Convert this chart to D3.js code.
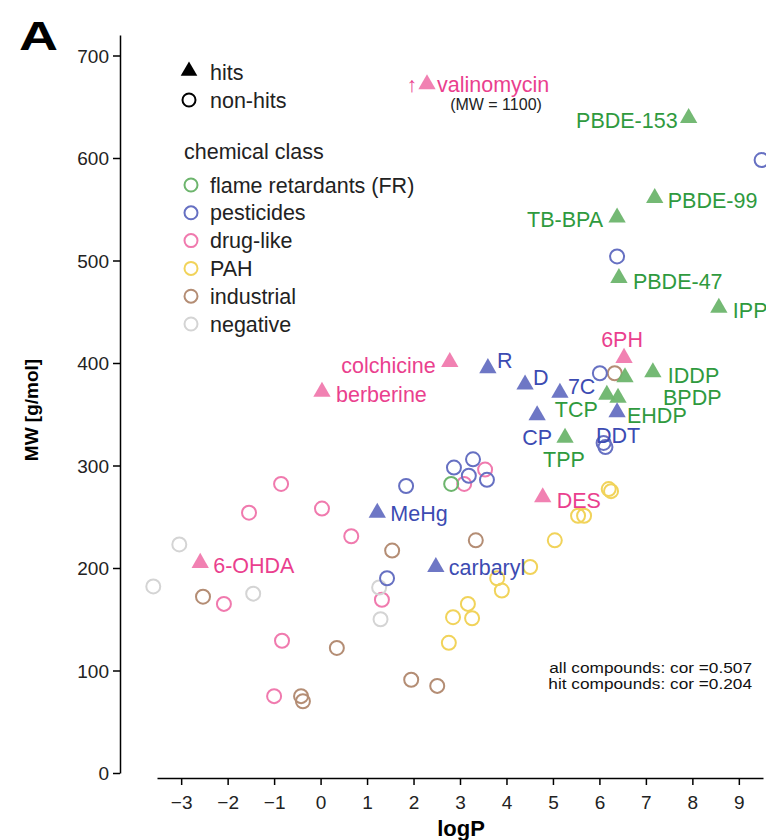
<!DOCTYPE html>
<html>
<head>
<meta charset="utf-8">
<script src="https://cdn.jsdelivr.net/npm/d3@7"></script>
<style>
  body { margin: 0; background: #fff; }
  svg { display: block; font-family: "Liberation Sans", Arial, sans-serif; }
</style>
</head>
<body>
<svg id="chart" width="766" height="840"></svg>
<script>
// chemical classes
var classKeys = ["FR", "pest", "drug", "PAH", "ind", "neg"];
var classNames = ["flame retardants (FR)", "pesticides", "drug-like", "PAH", "industrial", "negative"];

// hits (triangles)
var hitNames = ["valinomycin", "PBDE-153", "PBDE-99", "TB-BPA", "PBDE-47", "IPP", "6PH", "IDDP",
                "BPDP", "TCP", "EHDP", "DDT", "7C", "D", "R", "CP", "TPP", "colchicine",
                "berberine", "DES", "MeHg", "carbaryl", "6-OHDA"];
var hitClass = ["drug", "FR", "FR", "FR", "FR", "FR", "drug", "FR",
                "FR", "FR", "FR", "pest", "pest", "pest", "pest", "pest", "FR", "drug",
                "drug", "drug", "pest", "pest", "drug"];
var hitLogP = [2.29, 7.92, 7.19, 6.38, 6.42, 8.57, 6.53, 7.15,
               6.55, 6.16, 6.40, 6.38, 5.15, 4.40, 3.60, 4.66, 5.26, 2.78,
               0.03, 4.78, 1.22, 2.48, -2.59];
var hitMW = [672, 639, 561, 542, 483, 454, 405, 391,
             386, 369, 366, 352, 371, 379, 395, 349, 327, 401,
             372, 269, 254, 201, 205];

// non-hits (open circles)
var nonClass = ["drug", "drug", "drug", "drug", "drug", "drug", "drug", "drug", "drug", "drug",
                "neg", "neg", "neg", "neg", "neg",
                "ind", "ind", "ind", "ind", "ind", "ind", "ind", "ind", "ind",
                "pest", "pest", "pest", "pest", "pest", "pest", "pest", "pest", "pest", "pest", "pest",
                "FR",
                "PAH", "PAH", "PAH", "PAH", "PAH", "PAH", "PAH", "PAH", "PAH", "PAH", "PAH", "PAH"];
var nonLogP = [-0.85, -1.54, 0.03, 0.66, -2.08, 1.32, -0.83, -1.00, 3.54, 3.09,
               -3.04, -3.60, -1.45, 1.26, 1.29,
               -2.53, 1.54, 0.35, 1.95, 2.51, -0.42, -0.38, 3.34, 6.33,
               1.84, 1.43, 2.87, 3.28, 3.19, 3.58, 6.01, 6.09, 6.13, 6.38, 9.49,
               2.81,
               3.80, 3.90, 3.17, 2.85, 3.26, 2.76, 4.51, 5.04, 5.54, 5.67, 6.20, 6.25];
var nonMW = [282, 254, 258, 231, 165, 169, 129, 75, 296, 282,
             223, 182, 175, 181, 150,
             172, 217, 122, 91, 85, 75, 70, 227, 390,
             280, 190, 298, 306, 290, 286, 390, 322, 318, 504, 598,
             282,
             190, 178, 165, 152, 151, 127, 201, 227, 251, 251, 277, 275];

var yTicks = [0, 100, 200, 300, 400, 500, 600, 700];
var xTicks = [-3, -2, -1, 0, 1, 2, 3, 4, 5, 6, 7, 8, 9];
var corNotes = ["all compounds: cor =0.507", "hit compounds: cor =0.204"];

// colours per class
var markColor = { FR: "#6db56d", pest: "#6670c2", drug: "#f07aae", PAH: "#f1d35a", ind: "#b48d74", neg: "#d4d4d4" };
var textColor = { FR: "#2f9a3e", pest: "#3c4bb2", drug: "#ea3f8e" };

// label placement: dx, dy, anchor
var labelPos = {
  "valinomycin": [10, 0, "start"], "PBDE-153": [-11, 2, "end"], "PBDE-99": [13, 2, "start"],
  "TB-BPA": [-14, 2, "end"], "PBDE-47": [14, 4, "start"], "IPP": [14, 3, "start"],
  "6PH": [-2, -18, "middle"], "IDDP": [15, 3, "start"], "BPDP": [38, 20, "start"],
  "TCP": [-9, 15, "end"], "EHDP": [9, 18, "start"], "DDT": [1, 23, "middle"],
  "7C": [8, -6, "start"], "D": [8, -7, "start"], "R": [9, -8, "start"],
  "CP": [0, 22, "middle"], "TPP": [-1, 22, "middle"], "colchicine": [-14, 3, "end"],
  "berberine": [14, 3, "start"], "DES": [14, 3, "start"], "MeHg": [13, 1, "start"],
  "carbaryl": [13, 0, "start"], "6-OHDA": [13, 3, "start"]
};

var svg = d3.select("#chart");

var x = d3.scaleLinear().domain([-3.52, 9.52]).range([157, 763]);
var y = d3.scaleLinear().domain([0, 720]).range([773, 35]);

// axes
var yAxis = svg.append("g").attr("transform", "translate(120,0)")
  .call(d3.axisLeft(y).tickValues(yTicks).tickSize(7).tickSizeOuter(0).tickPadding(4));
var xAxis = svg.append("g").attr("transform", "translate(0,778)")
  .call(d3.axisBottom(x).tickValues(xTicks).tickSize(7).tickSizeOuter(0).tickPadding(11).tickFormat(d3.format("d")));

[yAxis, xAxis].forEach(function(a) {
  a.selectAll("path, line").attr("stroke", "#000").attr("stroke-width", 1.5);
  a.selectAll("text").attr("fill", "#222").style("font-size", "19px")
    .style("font-family", "'Liberation Sans', Arial, sans-serif");
});
yAxis.selectAll("text").attr("dy", "0.35em");

svg.append("text").attr("transform", "translate(38,410) rotate(-90)")
  .attr("text-anchor", "middle").style("font-weight", "bold").style("font-size", "19px")
  .text("MW [g/mol]");
svg.append("text").attr("x", 461).attr("y", 836)
  .attr("text-anchor", "middle").style("font-weight", "bold").style("font-size", "22px")
  .text("logP");

svg.append("text").attr("transform", "translate(19,50) scale(1.35,1)")
  .style("font-weight", "bold").style("font-size", "40px").text("A");

// non-hit circles
var nonData = nonClass.map(function(c, i) { return { cls: c, lp: nonLogP[i], mw: nonMW[i] }; });
svg.append("g").selectAll("circle").data(nonData).enter().append("circle")
  .attr("cx", function(d) { return x(d.lp); })
  .attr("cy", function(d) { return y(d.mw); })
  .attr("r", 7)
  .attr("fill", "none")
  .attr("stroke", function(d) { return markColor[d.cls]; })
  .attr("stroke-width", 2);

// hit triangles
var hitData = hitNames.map(function(n, i) { return { name: n, cls: hitClass[i], lp: hitLogP[i], mw: hitMW[i] }; });
var tri = d3.symbol().type(d3.symbolTriangle).size(130);
svg.append("g").selectAll("path").data(hitData).enter().append("path")
  .attr("d", tri)
  .attr("transform", function(d) { return "translate(" + x(d.lp) + "," + y(d.mw) + ")"; })
  .attr("fill", function(d) { return markColor[d.cls]; })
  .attr("fill-opacity", 0.95);

// hit labels
svg.append("g").selectAll("text").data(hitData).enter().append("text")
  .attr("x", function(d) { return x(d.lp) + labelPos[d.name][0]; })
  .attr("y", function(d) { return y(d.mw) + labelPos[d.name][1]; })
  .attr("dy", "0.35em")
  .attr("text-anchor", function(d) { return labelPos[d.name][2]; })
  .attr("fill", function(d) { return textColor[d.cls]; })
  .style("font-size", "21.5px")
  .text(function(d) { return d.name; });

// valinomycin note
var val = hitData[0];
svg.append("text").attr("x", x(val.lp) - 10).attr("y", y(val.mw)).attr("dy", "0.35em")
  .attr("text-anchor", "end").attr("fill", textColor.drug).style("font-size", "21px").text("\u2191");
svg.append("text").attr("x", x(val.lp) + 69).attr("y", y(val.mw) + 20).attr("dy", "0.35em")
  .attr("text-anchor", "middle").attr("fill", "#222").style("font-size", "16px").text("(MW = 1100)");

// correlation notes (slightly stretched, like the original)
svg.append("g").selectAll("text").data(corNotes).enter().append("text")
  .attr("transform", function(d, i) { return "translate(752," + (673 + i * 16) + ") scale(1.15,1)"; })
  .attr("text-anchor", "end").attr("fill", "#111").style("font-size", "15px")
  .text(function(d) { return d; });

// legend
var leg = svg.append("g");
leg.append("path").attr("d", d3.symbol().type(d3.symbolTriangle).size(120)())
  .attr("transform", "translate(189,71)").attr("fill", "#000");
leg.append("text").attr("x", 210).attr("y", 72).attr("dy", "0.35em").style("font-size", "21.5px").attr("fill", "#222").text("hits");
leg.append("circle").attr("cx", 189).attr("cy", 100).attr("r", 6.5)
  .attr("fill", "none").attr("stroke", "#000").attr("stroke-width", 2);
leg.append("text").attr("x", 210).attr("y", 100).attr("dy", "0.35em").style("font-size", "21.5px").attr("fill", "#222").text("non-hits");
leg.append("text").attr("x", 184).attr("y", 151).attr("dy", "0.35em").style("font-size", "21.5px").attr("fill", "#222").text("chemical class");

var rows = leg.selectAll("g.row").data(classKeys).enter().append("g").attr("class", "row")
  .attr("transform", function(d, i) { return "translate(0," + (185 + i * 27.8) + ")"; });
rows.append("circle").attr("cx", 191).attr("r", 6.5).attr("fill", "none")
  .attr("stroke", function(d) { return markColor[d]; }).attr("stroke-width", 2);
rows.append("text").attr("x", 210).attr("dy", "0.35em").style("font-size", "21.5px").attr("fill", "#222")
  .text(function(d, i) { return classNames[i]; });
</script>
</body>
</html>
